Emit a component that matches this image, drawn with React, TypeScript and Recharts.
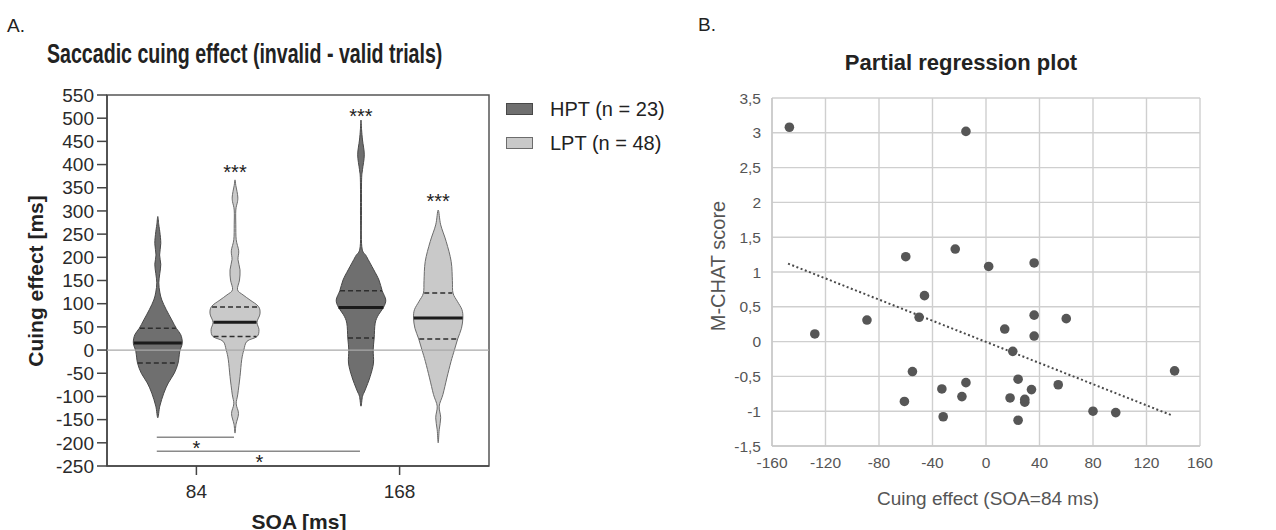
import React from "react";
import { ComposedChart, Scatter, XAxis, YAxis, ReferenceLine, ReferenceArea, CartesianGrid } from "recharts";

// ---- panel A data ----
const SOA_LABELS = ["84", "168"];
const GROUP_LABELS = ["HPT (n = 23)", "LPT (n = 48)"];
const GROUP_FILLS = ["#6f6f6f", "#c9c9c9"];
const GROUP_STROKES = ["#484848", "#6c6c6c"];

// violin outlines: [cuing effect in ms, density (half width)]
const hpt84 = [
  [-146, 0], [-121, 2], [-93, 6], [-71, 10.5], [-50, 16.5], [-28, 20.3], [-3, 22], [15, 24.5], [33, 23],
  [47, 18.5], [65, 14], [87, 8.5], [108, 4], [125, 2], [145, 1], [165, 2], [185, 3], [205, 1.8], [230, 3],
  [255, 2], [270, 1], [288, 0],
];
const lpt84 = [
  [-179, 0], [-160, 1], [-137, 3.5], [-116, 1.2], [-95, 2.8], [-57, 5], [-21, 6.7], [0, 8.8], [19, 12],
  [29, 22], [44, 24], [60, 22], [78, 25], [94, 23.5], [108, 15], [119, 8], [130, 2.5], [151, 4.5], [173, 5],
  [195, 3], [214, 3.7], [238, 1.2], [270, 0.8], [302, 0.8], [320, 2.5], [330, 2.8], [342, 2], [355, 0.8], [367, 0],
];
const hpt168 = [
  [-121, 0], [-100, 1.5], [-86, 4.2], [-57, 9.2], [-28, 12.5], [0, 12.2], [26, 13.2], [58, 14.2], [76, 17.5],
  [92, 22.5], [108, 24.8], [128, 21.2], [151, 18], [173, 12.8], [202, 5.5], [223, 0.8], [300, 0.5], [367, 0.6],
  [389, 1.5], [421, 3.3], [453, 1.5], [475, 0.6], [496, 0],
];
const lpt168 = [
  [-200, 0], [-172, 1], [-146, 2.5], [-121, 1], [-96, 4.7], [-60, 8.7], [-25, 12.8], [0, 16.2], [24, 19.5],
  [47, 23.3], [69, 24.7], [87, 23.8], [105, 19.2], [123, 14.8], [150, 14.2], [191, 13], [234, 8], [270, 2.5],
  [302, 0],
];

// quartiles [q1, median, q3] and the violin density at each
const hpt84Quart = [-28, 15, 47];
const hpt84QuartW = [20, 24, 18];
const lpt84Quart = [29, 60, 93];
const lpt84QuartW = [21.5, 21.5, 23];
const hpt168Quart = [26, 92, 128];
const hpt168QuartW = [13, 22.5, 21];
const lpt168Quart = [24, 69, 123];
const lpt168QuartW = [19, 24.5, 14];

// significance vs zero
const starSoa = [0, 1, 1];
const starGroup = [1, 0, 1];
const starLevel = [394, 514, 331];

// between-condition comparisons: [soa, group] to [soa, group]
const bracketFrom = [[0, 0], [0, 0]];
const bracketTo = [[0, 1], [1, 0]];
const bracketLevel = [-188, -218];
const bracketStarLevel = [-202, -232];

// ---- panel B data ----
const cuing84 = [
  -147, -15, -60, -23, 2, 36, -128, -89, -46, -50, 14, 36, 36, 60, 20, -55, -61, -33, -32, -18, -15, 18, 24, 29,
  29, 34, 24, 54, 80, 97, 141,
];
const mchat = [
  3.08, 3.02, 1.22, 1.33, 1.08, 1.13, 0.11, 0.31, 0.66, 0.35, 0.18, 0.38, 0.08, 0.33, -0.14, -0.43, -0.86, -0.68,
  -1.08, -0.79, -0.59, -0.81, -0.54, -0.83, -0.87, -0.69, -1.13, -0.62, -1.0, -1.02, -0.42,
];
const trendX = [-148, 139];
const trendY = [1.12, -1.06];

const xTicksB = [-160, -120, -80, -40, 0, 40, 80, 120, 160];
const yTicksB = [-1.5, -1, -0.5, 0, 0.5, 1, 1.5, 2, 2.5, 3, 3.5];
const yTicksA = [-250, -200, -150, -100, -50, 0, 50, 100, 150, 200, 250, 300, 350, 400, 450, 500, 550];

// ---- helpers ----
const X_DOMAIN_A = [0.56, 2.44];
const GROUP_OFFSET = 0.19;
const WIDTH_SCALE = 1 / 203.5;
const xPos = (soa: number, group: number) => soa + 1 + (group ? GROUP_OFFSET : -GROUP_OFFSET);

const outline = (c: number, prof: number[][]) => {
  const right = prof.map(([v, w]) => ({ x: c + w * WIDTH_SCALE, y: v }));
  const left = prof
    .slice(1, -1)
    .reverse()
    .map(([v, w]) => ({ x: c - w * WIDTH_SCALE, y: v }));
  return [...right, ...left];
};

const smoothClosed = (pts: { x: number; y: number }[]) => {
  const n = pts.length;
  let d = `M${pts[0].x},${pts[0].y}`;
  for (let i = 0; i < n; i++) {
    const p0 = pts[(i - 1 + n) % n];
    const p1 = pts[i];
    const p2 = pts[(i + 1) % n];
    const p3 = pts[(i + 2) % n];
    const c1x = p1.x + (p2.x - p0.x) / 6;
    const c1y = p1.y + (p2.y - p0.y) / 6;
    const c2x = p2.x - (p3.x - p1.x) / 6;
    const c2y = p2.y - (p3.y - p1.y) / 6;
    d += `C${c1x},${c1y} ${c2x},${c2y} ${p2.x},${p2.y}`;
  }
  return d + "Z";
};

const validPts = (props: any) => (props.points || []).filter((p: any) => p.x != null && p.y != null);

const violinLine = (fill: string, stroke: string) => (props: any) => {
  const pts = validPts(props);
  if (pts.length < 3) return <g />;
  return <path d={smoothClosed(pts)} fill={fill} stroke={stroke} strokeWidth={1} />;
};

const segLine = (stroke: string, width: number, dash?: string) => (props: any) => {
  const pts = validPts(props);
  if (pts.length < 2) return <g />;
  const d = pts.map((p: any, i: number) => `${i ? "L" : "M"}${p.x},${p.y}`).join("");
  return <path d={d} fill="none" stroke={stroke} strokeWidth={width} strokeDasharray={dash} />;
};

const noShape = () => <g />;
const dotShape = (props: any) => <circle cx={props.cx} cy={props.cy} r={4.8} fill="#565656" />;

const starShape = (fontSize: number) => (props: any) => (
  <text x={props.cx} y={props.cy} dy={fontSize * 0.57} textAnchor="middle" fontSize={fontSize} fill="#222">
    {props.payload.label}
  </text>
);

const violins = [
  { soa: 0, group: 0, prof: hpt84, q: hpt84Quart, qw: hpt84QuartW },
  { soa: 0, group: 1, prof: lpt84, q: lpt84Quart, qw: lpt84QuartW },
  { soa: 1, group: 0, prof: hpt168, q: hpt168Quart, qw: hpt168QuartW },
  { soa: 1, group: 1, prof: lpt168, q: lpt168Quart, qw: lpt168QuartW },
];

const starData = starLevel.map((y, i) => ({ x: xPos(starSoa[i], starGroup[i]), y, label: "***" }));
const bracketStars = bracketLevel.map((_, i) => ({
  x: (xPos(bracketFrom[i][0], bracketFrom[i][1]) + xPos(bracketTo[i][0], bracketTo[i][1])) / 2,
  y: bracketStarLevel[i],
  label: "*",
}));

const scatterData = cuing84.map((x, i) => ({ x, y: mchat[i] }));

const FONT = "'Liberation Sans', Arial, Helvetica, sans-serif";

const abs = (style: React.CSSProperties): React.CSSProperties => ({
  position: "absolute",
  lineHeight: 1,
  whiteSpace: "nowrap",
  ...style,
});

export default function App() {
  return (
    <div style={{ position: "absolute", left: 0, top: 0, width: 1276, height: 530, background: "#fff", fontFamily: FONT }}>
      {/* ---------- Panel A ---------- */}
      <div style={abs({ left: 7, top: 16, fontSize: 19, color: "#222" })}>A.</div>
      <div
        style={abs({
          left: 47,
          top: 40,
          fontSize: 28,
          fontWeight: "bold",
          color: "#222",
          transform: "scaleX(0.7)",
          transformOrigin: "left top",
        })}
      >
        Saccadic cuing effect (invalid - valid trials)
      </div>

      <ComposedChart
        width={690}
        height={530}
        margin={{ top: 95, right: 201, bottom: 0, left: 0 }}
        style={{ position: "absolute", left: 0, top: 0 }}
      >
        <XAxis
          type="number"
          dataKey="x"
          domain={X_DOMAIN_A}
          ticks={[1, 2]}
          tickFormatter={(v: number) => SOA_LABELS[v - 1]}
          height={64}
          tickSize={9}
          tickMargin={10}
          stroke="#444"
          strokeWidth={1.5}
          tick={{ fontSize: 19, fill: "#2a2a2a" }}
          allowDataOverflow
        />
        <YAxis
          type="number"
          dataKey="y"
          domain={[-250, 550]}
          ticks={yTicksA}
          interval={0}
          width={107}
          tickSize={10}
          tickMargin={3}
          stroke="#444"
          strokeWidth={1.5}
          tick={{ fontSize: 19, fill: "#2a2a2a" }}
          allowDataOverflow
        />
        <ReferenceArea
          x1={X_DOMAIN_A[0]}
          x2={X_DOMAIN_A[1]}
          y1={-250}
          y2={550}
          fill="none"
          stroke="#555"
          strokeWidth={1.5}
          ifOverflow="visible"
        />

        {violins.map((v, i) => (
          <Scatter
            key={`v${i}`}
            data={outline(xPos(v.soa, v.group), v.prof)}
            line={violinLine(GROUP_FILLS[v.group], GROUP_STROKES[v.group])}
            lineType="joint"
            shape={noShape}
            isAnimationActive={false}
          />
        ))}

        {/* zero reference drawn over the violins */}
        <Scatter
          data={[
            { x: X_DOMAIN_A[0], y: 0 },
            { x: X_DOMAIN_A[1], y: 0 },
          ]}
          line={segLine("#a8a8a8", 1.2)}
          lineType="joint"
          shape={noShape}
          isAnimationActive={false}
        />

        {violins.flatMap((v, i) =>
          v.q.map((q, k) => {
            const c = xPos(v.soa, v.group);
            const w = v.qw[k] * WIDTH_SCALE;
            return (
              <Scatter
                key={`q${i}-${k}`}
                data={[
                  { x: c - w, y: q },
                  { x: c + w, y: q },
                ]}
                line={k === 1 ? segLine("#1b1b1b", 3) : segLine("#2e2e2e", 1.5, "5 3")}
                lineType="joint"
                shape={noShape}
                isAnimationActive={false}
              />
            );
          })
        )}

        {bracketLevel.map((y, i) => (
          <ReferenceLine
            key={`b${i}`}
            segment={[
              { x: xPos(bracketFrom[i][0], bracketFrom[i][1]) - 0.005, y },
              { x: xPos(bracketTo[i][0], bracketTo[i][1]) - 0.005, y },
            ]}
            stroke="#8a8a8a"
            strokeWidth={1.5}
          />
        ))}

        <Scatter data={starData} shape={starShape(20)} isAnimationActive={false} />
        <Scatter data={bracketStars} shape={starShape(20)} isAnimationActive={false} />
      </ComposedChart>

      <div
        style={abs({
          left: 35,
          top: 280.5,
          fontSize: 21,
          fontWeight: "bold",
          color: "#222",
          transform: "translate(-50%, -50%) rotate(-90deg)",
        })}
      >
        Cuing effect [ms]
      </div>
      <div
        style={abs({
          left: 299,
          top: 521,
          fontSize: 21,
          fontWeight: "bold",
          color: "#222",
          transform: "translate(-50%, -50%)",
        })}
      >
        SOA [ms]
      </div>

      {GROUP_LABELS.map((g, i) => (
        <React.Fragment key={g}>
          <div
            style={abs({
              left: 506,
              top: 103 + i * 34,
              width: 25,
              height: 10,
              background: GROUP_FILLS[i],
              border: `1px solid ${GROUP_STROKES[i]}`,
            })}
          />
          <div style={abs({ left: 550, top: 99 + i * 34, fontSize: 20, color: "#222" })}>{g}</div>
        </React.Fragment>
      ))}

      {/* ---------- Panel B ---------- */}
      <div style={abs({ left: 698, top: 15, fontSize: 19, color: "#222" })}>B.</div>
      <div
        style={abs({
          left: 961,
          top: 63,
          fontSize: 22,
          fontWeight: "bold",
          color: "#222",
          transform: "translate(-50%, -50%)",
        })}
      >
        Partial regression plot
      </div>

      <ComposedChart
        width={586}
        height={530}
        margin={{ top: 98, right: 76, bottom: 0, left: 0 }}
        style={{ position: "absolute", left: 690, top: 0 }}
      >
        <CartesianGrid stroke="#cfcfcf" strokeWidth={1.4} />
        <XAxis
          type="number"
          dataKey="x"
          domain={[-160, 160]}
          ticks={xTicksB}
          interval={0}
          height={84}
          tickLine={false}
          tickSize={0}
          tickMargin={11}
          axisLine={{ stroke: "#c8c8c8", strokeWidth: 1.4 }}
          tick={{ fontSize: 15.5, fill: "#555" }}
        />
        <YAxis
          type="number"
          dataKey="y"
          domain={[-1.5, 3.5]}
          ticks={yTicksB}
          interval={0}
          width={82}
          tickLine={false}
          tickSize={0}
          tickMargin={11}
          axisLine={{ stroke: "#c8c8c8", strokeWidth: 1.4 }}
          tickFormatter={(v: number) => String(v).replace(".", ",")}
          tick={{ fontSize: 15.5, fill: "#555" }}
        />
        <ReferenceLine
          segment={[
            { x: trendX[0], y: trendY[0] },
            { x: trendX[1], y: trendY[1] },
          ]}
          stroke="#4a4a4a"
          strokeWidth={2}
          strokeDasharray="2 2.5"
        />
        <Scatter data={scatterData} shape={dotShape} isAnimationActive={false} />
      </ComposedChart>

      <div
        style={abs({
          left: 718,
          top: 266,
          fontSize: 20,
          color: "#555",
          transform: "translate(-50%, -50%) rotate(-90deg)",
        })}
      >
        M-CHAT score
      </div>
      <div
        style={abs({
          left: 988,
          top: 498,
          fontSize: 19,
          color: "#555",
          transform: "translate(-50%, -50%)",
        })}
      >
        Cuing effect (SOA=84 ms)
      </div>
    </div>
  );
}
